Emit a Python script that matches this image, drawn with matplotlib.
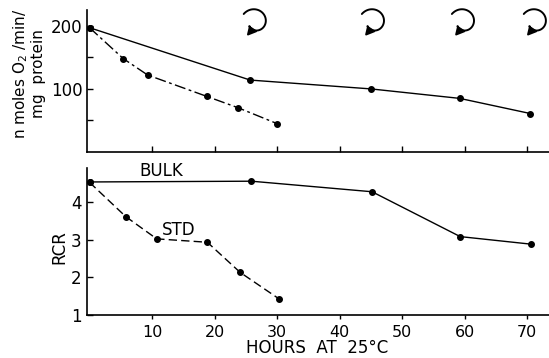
import matplotlib
matplotlib.use("Agg")
from matplotlib import pyplot as plt
from matplotlib.path import Path
from matplotlib.patches import FancyArrowPatch
from matplotlib.transforms import ScaledTranslation
import numpy as np

# oxygen uptake, n moles O2/min/mg protein
bulk_o2_hours = [0, 25.7, 45.0, 59.2, 70.5]
bulk_o2 = [197, 114, 100, 85, 61]
std_o2_hours = [0, 5.4, 9.3, 18.8, 23.8, 30.0]
std_o2 = [197, 148, 122, 88, 70, 45]

# respiratory control ratio
bulk_rcr_hours = [0, 25.9, 45.2, 59.3, 70.6]
bulk_rcr = [4.53, 4.55, 4.27, 3.08, 2.88]
std_rcr_hours = [0, 5.8, 10.75, 18.85, 24.1, 30.3]
std_rcr = [4.52, 3.61, 3.02, 2.93, 2.13, 1.43]

# curly arrows over the top panel
arrow_hours = [26.5, 45.4, 59.8, 71.3]
arrow_level = 206

hour_ticks = [10, 20, 30, 40, 50, 60, 70]

plt.rcParams["font.family"] = "DejaVu Sans"
fig = plt.figure(figsize=(5.49, 3.58), dpi=100)
ax1 = fig.add_axes([0.1585, 0.5754, 0.8415, 0.3966])
ax2 = fig.add_axes([0.1585, 0.1201, 0.8415, 0.4106])

for ax in (ax1, ax2):
    ax.spines["top"].set_visible(False)
    ax.spines["right"].set_visible(False)
    ax.spines["left"].set_linewidth(1.2)
    ax.spines["bottom"].set_linewidth(1.2)
    ax.set_xlim(-0.4, 73.5)
    ax.set_xticks(hour_ticks)

lk = dict(color="black", lw=1.0, marker="o", ms=4, clip_on=False)

# top panel
ax1.plot(bulk_o2_hours, bulk_o2, ls="-", **lk)
ax1.plot(std_o2_hours, std_o2, ls=(0, (8, 2.5, 2, 2.5)), **lk)
ax1.set_ylim(0, 225)
ax1.set_yticks([100, 200])
ax1.set_yticklabels(["100", "200"], fontsize=12)
ax1.set_yticks([50, 150], minor=True)
ax1.tick_params(axis="y", which="both", direction="in", length=4, width=1, pad=3)
ax1.tick_params(axis="x", direction="in", length=4, width=1, labelbottom=False)

# curly arrows: a shrinking clockwise spiral, drawn in inches around each anchor
theta = np.linspace(np.radians(145), np.radians(-150), 60)
r = np.linspace(0.14, 0.07, 60)
verts = np.column_stack([r * np.cos(theta), r * np.sin(theta)])
arc = Path(verts)
for h in arrow_hours:
    tr = fig.dpi_scale_trans + ScaledTranslation(h, arrow_level, ax1.transData)
    ax1.add_patch(FancyArrowPatch(path=arc, arrowstyle="-|>,head_length=0.5,head_width=0.35",
                                  mutation_scale=9, lw=1.4, color="black",
                                  transform=tr, clip_on=False))

# bottom panel
ax2.plot(bulk_rcr_hours, bulk_rcr, ls="-", **lk)
ax2.plot(std_rcr_hours, std_rcr, ls=(0, (6, 3)), **lk)
ax2.set_ylim(1, 4.9)
ax2.set_yticks([1, 2, 3, 4])
ax2.set_yticklabels(["1", "2", "3", "4"], fontsize=12)
ax2.tick_params(axis="y", direction="in", length=4, width=1, pad=4)
ax2.tick_params(axis="x", direction="out", length=3, width=1, pad=4, labelsize=11.5)
ax2.text(11.5, 4.58, "BULK", fontsize=12, ha="center", va="bottom")
ax2.text(14.2, 3.02, "STD", fontsize=12, ha="center", va="bottom")

fig.text(0.052, 0.795, "n moles O$_2$ /min/\nmg  protein", rotation=90,
         ha="center", va="center", multialignment="center", fontsize=11,
         linespacing=1.1)
fig.text(0.109, 0.31, "RCR", rotation=90, ha="center", va="center", fontsize=12)
fig.text(0.578, 0.028, "HOURS  AT  25°C", ha="center", va="center", fontsize=12)

fig.savefig("out.png", dpi=100)
